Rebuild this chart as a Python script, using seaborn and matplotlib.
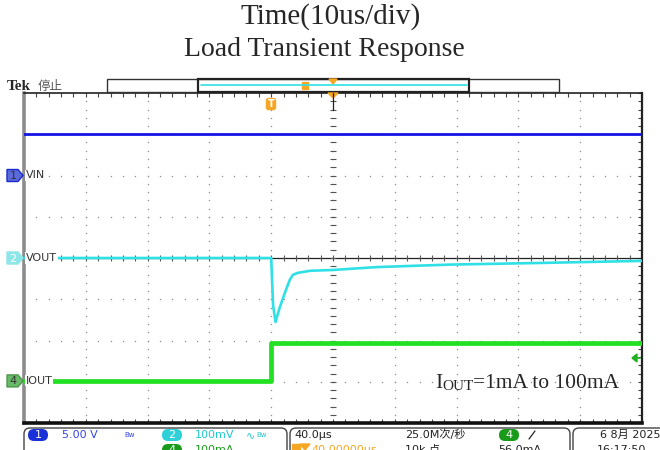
import numpy as np
import pandas as pd
import matplotlib
matplotlib.use("Agg")
import matplotlib.pyplot as plt
from matplotlib.patches import Polygon, Rectangle, FancyBboxPatch
import seaborn as sns

# ---------------- data (time in us, amplitude in screen divisions) -------------
title_line1 = "Time(10us/div)"
title_line2 = "Load Transient Response"

t_vin = [0.0, 100.0]
vin_div = [7.0, 7.0]

t_vout = [0.0, 40.0, 40.3, 40.7, 41.4, 42.2, 43.0, 43.5, 44.3, 46.3, 50.0, 57.1, 68.9, 83.5, 100.0]
vout_div = [4.0, 4.0, 2.86, 2.45, 2.81, 3.15, 3.47, 3.59, 3.64, 3.69, 3.71, 3.78, 3.84, 3.88, 3.93]

t_iout = [0.0, 40.0, 40.0, 100.0]
iout_div = [1.02, 1.02, 1.94, 1.94]

channel_ids = ["1", "2", "4"]
channel_names = ["VIN", "VOUT", "IOUT"]
channel_ground = [6.0, 4.0, 1.02]
annotation_parts = ["I", "OUT", "=1mA to 100mA"]

status_row1 = ["5.00 V", "100mV", "40.0\u00b5s", "25.0M\u6b21/\u79d2", "6 8\u6708 2025"]
status_row2 = ["100mA", "40.00000\u00b5s", "10k \u70b9", "56.0mA", "16:17:50"]

# ---------------- style ---------------------------------------------------------
sns.set_theme(style="white")
plt.rcParams["font.family"] = ["DejaVu Sans", "Noto Sans CJK SC"]
CJK = ["DejaVu Sans", "Noto Sans CJK SC"]
SERIF = ["Liberation Serif", "DejaVu Serif"]

C_BLUE = "#1414e6"
C_CYAN = "#2fe0e6"
C_GREEN = "#22e022"
C_ORANGE = "#f5a623"

fig = plt.figure(figsize=(6.6, 4.5), dpi=100)
fig.patch.set_facecolor("white")

ax = fig.add_axes([24 / 660, 1 - 423 / 450, 618 / 660, 330 / 450])
ax.set_facecolor("white")
ax.set_xlim(0, 100)
ax.set_ylim(0, 8)

# graticule dots
xg = np.arange(10, 100, 10)
yg = np.arange(0, 8.0001, 0.2)
gx, gy = np.meshgrid(xg, yg)
ax.plot(gx.ravel(), gy.ravel(), ls="none", marker="s", ms=0.9, color="#8a8a8a", mew=0)
yh = np.arange(1, 8, 1)
xh = np.arange(0, 100.0001, 2)
hx, hy = np.meshgrid(xh, yh)
ax.plot(hx.ravel(), hy.ravel(), ls="none", marker="s", ms=0.9, color="#8a8a8a", mew=0)
# center cross
ax.axhline(4, color="#222222", lw=0.9, zorder=1)
ax.plot(np.full_like(yg, 50), yg, ls="none", marker="_", ms=4, mew=0.8, color="#555555")
ax.plot(xh, np.full_like(xh, 4), ls="none", marker="|", ms=4, mew=0.8, color="#555555")

# traces
sns.lineplot(x=t_vin, y=vin_div, ax=ax, color=C_BLUE, lw=2.0, sort=False, estimator=None, zorder=3)
sns.lineplot(x=t_vout, y=vout_div, ax=ax, color=C_CYAN, lw=1.9, sort=False, estimator=None, zorder=3)
sns.lineplot(x=t_iout, y=iout_div, ax=ax, color=C_GREEN, lw=3.4, sort=False, estimator=None, zorder=3)

ax.set_xticks(np.arange(0, 101, 10))
ax.set_xticks(np.arange(0, 101, 2), minor=True)
ax.set_yticks(np.arange(0, 9, 1))
ax.set_yticks(np.arange(0, 8.001, 0.2), minor=True)
ax.tick_params(which="both", direction="in", length=3, width=0.8, color="#444444",
               top=True, right=True, bottom=True, left=False,
               labelbottom=False, labelleft=False)
ax.set_xlabel("")
ax.set_ylabel("")
for side, c, w in [("top", "#222222", 1.2), ("right", "#222222", 1.6),
                   ("bottom", "#111111", 2.6), ("left", "#8c8c8c", 2.6)]:
    ax.spines[side].set_visible(True)
    ax.spines[side].set_color(c)
    ax.spines[side].set_linewidth(w)

# annotation
t1 = ax.text(0.665, 0.105, annotation_parts[0], transform=ax.transAxes, fontsize=15.5,
             family=SERIF, va="baseline", ha="left", zorder=5)
t2 = ax.annotate(annotation_parts[1], xy=(1, 0), xycoords=t1, fontsize=11,
                 family=SERIF, va="bottom", ha="left", zorder=5)
ax.annotate(annotation_parts[2], xy=(1, 0), xycoords=t2, fontsize=15.5,
            family=SERIF, va="bottom", ha="left", zorder=5)

# ---------------- overlay in pixel coordinates ----------------------------------
ov = fig.add_axes([0, 0, 1, 1], zorder=10)
ov.set_xlim(0, 660)
ov.set_ylim(450, 0)
ov.axis("off")
fig.canvas.draw()


def ypx(div):
    return 450 - ax.transData.transform((0, div))[1]


# titles
ov.text(331, 17, title_line1, ha="center", va="center", fontsize=21, family=SERIF)
ov.text(324, 50, title_line2, ha="center", va="center", fontsize=20, family=SERIF)

# top status
ov.text(7, 86, "Tek", ha="left", va="center", fontsize=11, family=SERIF, weight="bold")
ov.text(38, 86, "\u505c\u6b62", ha="left", va="center", fontsize=9, family=CJK, color="#555555")
ov.add_patch(Rectangle((107, 79), 452, 13, fill=False, ec="#333333", lw=1.0))
ov.add_patch(Rectangle((198, 79), 271, 13, fill=False, ec="#222222", lw=1.6))
ov.plot([201, 467], [85, 85], color=C_CYAN, lw=1.2)
ov.add_patch(Rectangle((302, 82), 6, 7, color=C_ORANGE))
ov.add_patch(Polygon([[329, 79], [337, 79], [333, 84]], closed=True, color=C_ORANGE))
ov.add_patch(Polygon([[328, 93], [338, 93], [333, 98]], closed=True, color=C_ORANGE))
ov.plot([333, 333], [93, 110], color="#222222", lw=0.9)
ov.add_patch(FancyBboxPatch((266.5, 98.5), 9, 11, boxstyle="round,pad=0,rounding_size=2",
                            color=C_ORANGE))
ov.text(271, 104, "T", ha="center", va="center", fontsize=7, color="white", weight="bold")

# channel markers
marker_style = [("#5a6ad8", "#1a2ad0", "#333333"),
                ("#8fe6e8", "#8fe6e8", "white"),
                ("#6ab86a", "#4a9a4a", "#333333")]
for cid, name, lvl, (fc, ec, tc) in zip(channel_ids, channel_names, channel_ground, marker_style):
    y = ypx(lvl)
    ov.add_patch(Polygon([[7, y - 6], [18, y - 6], [23, y], [18, y + 6], [7, y + 6]],
                         closed=True, fc=fc, ec=ec, lw=1.0))
    ov.text(13, y + 0.5, cid, ha="center", va="center", fontsize=8, color=tc)
    ov.text(26, y, name, ha="left", va="center", fontsize=8, color="#333333",
            bbox=dict(boxstyle="square,pad=0.05", fc="white", ec="none"))

# trigger level arrow (right)
ov.add_patch(Polygon([[632, 358], [637, 354], [637, 362]], closed=True, color="#1fb01f"))
ov.plot([635, 640], [358, 358], color="#1fb01f", lw=1.2)

# bottom status bar
for x0, w in [(24, 263), (290, 280), (573, 100)]:
    ov.add_patch(FancyBboxPatch((x0, 428), w, 40, boxstyle="round,pad=0,rounding_size=6",
                                fc="white", ec="#444444", lw=1.0))


def oval(xc, yc, txt, color):
    ov.add_patch(FancyBboxPatch((xc - 10, yc - 6), 20, 12, boxstyle="round,pad=0,rounding_size=6",
                                fc=color, ec="none"))
    ov.text(xc, yc, txt, ha="center", va="center", fontsize=8, color="white")


r1, r2 = 435, 450
oval(38, r1, "1", "#1a30d8")
ov.text(62, r1, status_row1[0], ha="left", va="center", fontsize=8, color="#3344e0")
ov.text(124, r1, "Bw", ha="left", va="center", fontsize=5, color="#3344e0")
oval(172, r1, "2", "#30d0d8")
ov.text(195, r1, status_row1[1], ha="left", va="center", fontsize=8, color="#22c8d0")
ov.text(246, r1, "\u223f", ha="left", va="center", fontsize=8, color="#22c8d0")
ov.text(256, r1, "Bw", ha="left", va="center", fontsize=5, color="#22c8d0")
oval(172, r2, "4", "#1a9a1a")
ov.text(195, r2, status_row2[0], ha="left", va="center", fontsize=8, color="#1a9a1a")

ov.text(294, r1, status_row1[2], ha="left", va="center", fontsize=8, color="#222222")
ov.add_patch(Rectangle((292, r2 - 6), 8, 12, color=C_ORANGE))
ov.add_patch(Polygon([[300, r2 - 6], [310, r2 - 6], [305, r2]], closed=True, color=C_ORANGE))
ov.text(311, r2, status_row2[1], ha="left", va="center", fontsize=8, color=C_ORANGE)
ov.text(405, r1, status_row1[3], ha="left", va="center", fontsize=8, color="#222222", family=CJK)
ov.text(405, r2, status_row2[2], ha="left", va="center", fontsize=8, color="#222222", family=CJK)
oval(509, r1, "4", "#1a9a1a")
ov.plot([529, 535], [r1 + 4, r1 - 4], color="#222222", lw=0.9)
ov.text(498, r2, status_row2[3], ha="left", va="center", fontsize=8, color="#222222")
ov.text(600, r1, status_row1[4], ha="left", va="center", fontsize=8, color="#222222", family=CJK)
ov.text(597, r2, status_row2[4], ha="left", va="center", fontsize=8, color="#222222")

fig.savefig("out.png", dpi=100, facecolor="white")
